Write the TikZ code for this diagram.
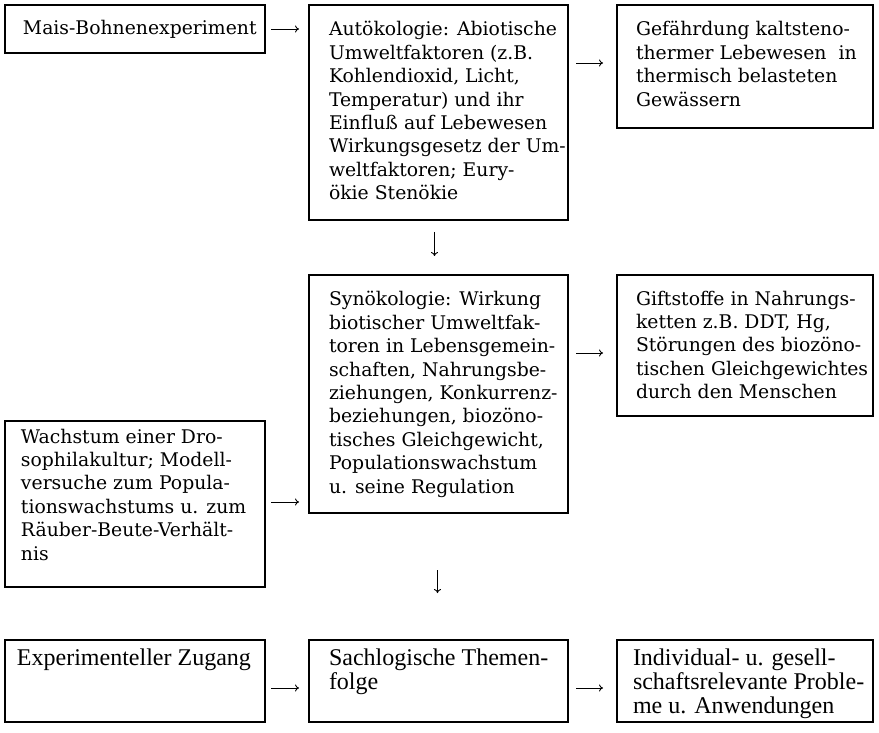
\documentclass[tikz,border=0pt]{standalone}
\usepackage{fontspec}
\setmainfont{DejaVu Serif}
\newfontfamily\bottomfont{Liberation Serif}
\usetikzlibrary{arrows.meta}
\newcommand\bxc[5]{\hspace*{#3pt}\parbox[t][#2pt][t]{\dimexpr#1pt-#3pt\relax}{\vspace*{#4pt}\raggedright\rule{0pt}{15pt}\ignorespaces #5}}
\newcommand\mainsize{\fontsize{18.8}{23.4}\selectfont}
\newcommand\botsize{\bottomfont\fontsize{24}{24}\selectfont}
\tikzset{
  boxst/.style={draw, line width=1.4pt, anchor=north west, inner sep=0pt, outer sep=0pt, font=\mainsize},
  botbox/.style={boxst, font=\botsize},
  arr/.style={-{To[length=4pt,width=7pt]}, line width=0.9pt},
}
\begin{document}
\begin{tikzpicture}[x=1pt,y=-1pt]
\useasboundingbox (0,0) rectangle (879,733);
\node[boxst] (mais) at (5,5) {\bxc{260}{48}{18}{15}{Mais-Bohnenexperiment}};
\node[boxst] (auto) at (309,5) {\bxc{259}{215}{20}{16}{Autökologie: Abiotische\\
Umweltfaktoren (z.B.\\
Kohlendioxid, Licht,\\
Temperatur) und ihr\\
Einfluß auf Lebewesen\\
Wirkungsgesetz der Um-\\
weltfaktoren; Eury-\\
ökie Stenökie}};
\node[boxst] (gef) at (617,5) {\bxc{256}{123}{19}{16}{Gefährdung kaltsteno-\\
thermer Lebewesen~ in\\
thermisch belasteten\\
Gewässern}};
\node[boxst] (syn) at (309,275) {\bxc{259}{238}{20}{16}{Synökologie: Wirkung\\
biotischer Umweltfak-\\
toren in Lebensgemein-\\
schaften, Nahrungsbe-\\
ziehungen, Konkurrenz-\\
beziehungen, biozöno-\\
tisches Gleichgewicht,\\
Populationswachstum\\
u. seine Regulation}};
\node[boxst] (gift) at (617,275) {\bxc{256}{141}{19}{15}{Giftstoffe in Nahrungs-\\
ketten z.B. DDT, Hg,\\
Störungen des biozöno-\\
tischen Gleichgewichtes\\
durch den Menschen}};
\node[boxst] (wach) at (5,421) {\bxc{260}{166}{16}{7}{Wachstum einer Dro-\\
sophilakultur; Modell-\\
versuche zum Popula-\\
tionswachstums u. zum\\
Räuber-Beute-Verhält-\\
nis}};
\node[botbox] (exp) at (5,640) {\bxc{260}{82}{12}{9}{Experimenteller Zugang}};
\node[botbox] (sach) at (309,640) {\bxc{259}{82}{20}{9}{Sachlogische Themen-\\
folge}};
\node[botbox] (ind) at (617,640) {\bxc{256}{82}{16}{9}{Individual- u. gesell-\\
schaftsrelevante Proble-\\
me u. Anwendungen}};
\draw[arr, shorten <=6pt, shorten >=10pt] (mais.east) -- (mais.east -| auto.west);
\draw[arr, shorten <=8pt, shorten >=14pt] ([yshift=-58pt]auto.north east) -- ([yshift=-58pt]gef.north west);
\draw[arr, shorten <=12pt, shorten >=19pt] ([xshift=-4pt]auto.south) -- ([xshift=-4pt]syn.north);
\draw[arr, shorten <=8pt, shorten >=14pt] ([yshift=-78pt]syn.north east) -- ([yshift=-78pt]gift.north west);
\draw[arr, shorten <=6pt, shorten >=10pt] ([yshift=-81pt]wach.north east) -- ([yshift=-81pt]wach.north east -| syn.west);
\draw[arr, shorten <=57pt, shorten >=47pt] ([xshift=-1pt]syn.south) -- ([xshift=-1pt]sach.north);
\draw[arr, shorten <=6pt, shorten >=10pt] ([yshift=-48pt]exp.north east) -- ([yshift=-48pt]sach.north west);
\draw[arr, shorten <=8pt, shorten >=14pt] ([yshift=-48pt]sach.north east) -- ([yshift=-48pt]ind.north west);
\end{tikzpicture}
\end{document}
